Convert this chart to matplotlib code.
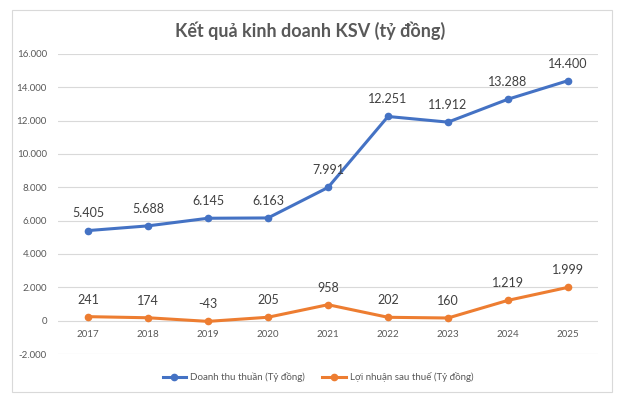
import matplotlib.pyplot as plt
from matplotlib.patches import Rectangle

plt.rcParams['font.family'] = ['Lato', 'DejaVu Sans']

years = ["2017", "2018", "2019", "2020", "2021", "2022", "2023", "2024", "2025"]
doanh_thu = [5405, 5688, 6145, 6163, 7991, 12251, 11912, 13288, 14400]
loi_nhuan = [241, 174, -43, 205, 958, 202, 160, 1219, 1999]
yticks = [-2000, 0, 2000, 4000, 6000, 8000, 10000, 12000, 14000, 16000]

BLUE = "#4472C4"
ORANGE = "#ED7D31"
GRAY = "#595959"


def vn(v):
    # dấu chấm phân cách hàng nghìn
    return f"{v:,}".replace(",", ".")


fig = plt.figure(figsize=(6.29, 3.98), dpi=100)
W, H = 629, 398
ax = fig.add_axes([58 / W, 1 - 354 / H, 540 / W, 300 / H])

# khung viền của biểu đồ
fig.patches.append(Rectangle((12 / W, 1 - 392 / H), 600 / W, 382 / H,
                             transform=fig.transFigure, fill=False,
                             edgecolor="#D9D9D9", linewidth=0.8))

x = list(range(len(years)))
ax.plot(x, doanh_thu, color=BLUE, lw=2.2, marker="o", ms=4.5,
        label="Doanh thu thuần (Tỷ đồng)")
ax.plot(x, loi_nhuan, color=ORANGE, lw=2.2, marker="o", ms=4.5,
        label="Lợi nhuận sau thuế (Tỷ đồng)")

for i, v in enumerate(doanh_thu):
    ax.annotate(vn(v), (i, v), xytext=(0, 8), textcoords="offset points",
                ha="center", va="bottom", fontsize=9, color="#404040")
for i, v in enumerate(loi_nhuan):
    ax.annotate(vn(v), (i, v), xytext=(0, 8), textcoords="offset points",
                ha="center", va="bottom", fontsize=9, color="#404040")

ax.set_xlim(-0.5, len(years) - 0.5)
ax.set_ylim(-2000, 16000)
ax.set_yticks(yticks)
ax.set_yticklabels([vn(t) for t in yticks], fontsize=7, color=GRAY)
ax.tick_params(axis="y", length=0, pad=8)
ax.set_xticks([])
ax.grid(axis="y", color="#D9D9D9", lw=0.8)
ax.set_axisbelow(True)
for s in ax.spines.values():
    s.set_visible(False)

# nhãn năm nằm ngay dưới trục 0
for i, y in enumerate(years):
    ax.annotate(y, (i, 0), xytext=(0, -7), textcoords="offset points",
                ha="center", va="top", fontsize=7, color=GRAY)

fig.text(310 / W, 1 - 31 / H, "Kết quả kinh doanh KSV (tỷ đồng)",
         ha="center", va="center", fontsize=13, fontweight="bold", color=GRAY)

fig.legend(loc="center", bbox_to_anchor=(318 / W, 1 - 377 / H), ncol=2,
           frameon=False, fontsize=7, labelcolor=GRAY, handlelength=2.4,
           handletextpad=0.4, columnspacing=1.8)

fig.savefig("out.png", dpi=100)
